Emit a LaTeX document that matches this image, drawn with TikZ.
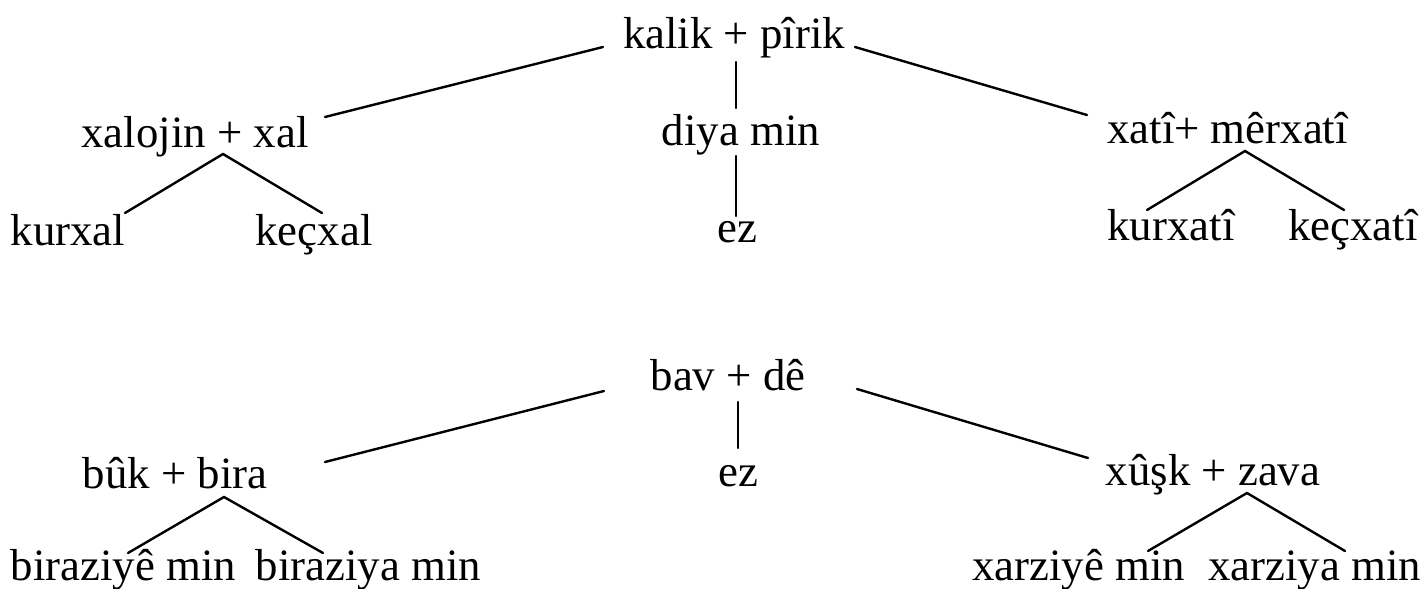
\documentclass[tikz,border=0pt]{standalone}
\usepackage{fontspec}
\setmainfont{Liberation Serif}
\usetikzlibrary{calc}
\begin{document}
\begin{tikzpicture}[x=0.5pt,y=-0.5pt,
  word/.style={inner sep=0pt,anchor=base,font=\fontsize{22.4}{26}\selectfont},
  link/.style={line width=1.2pt,line cap=round}]
\useasboundingbox (0,0) rectangle (1421,589);
% top tree
\node[word] (kalik) at (734,48) {kalik + pîrik};
\node[word] (diya) at (741,145) {diya min};
\node[word] (ez1) at (737.5,242) {ez};
\node[word] (xalojin) at (195,147) {xalojin + xal};
\node[word] (kurxal) at (68,245) {kurxal};
\node[word] (kecxal) at (314,245) {keçxal};
\node[word] (xati) at (1227.5,143) {xatî+ mêrxatî};
\node[word] (kurxati) at (1171,240) {kurxatî};
\node[word] (kecxati) at (1353,240) {keçxatî};
\draw[link] ($(kalik.base)+(-131,-1)$) -- ($(xalojin.base)+(130,-30)$);
\draw[link] ($(kalik.base)+(121,-1)$) -- ($(xati.base)+(-140.5,-28)$);
\draw[link] ($(kalik.base)+(2,14)$) -- ($(diya.base)+(-5,-37)$);
\draw[link] ($(diya.base)+(-5,11)$) -- ($(ez1.base)+(-1.5,-26)$);
\draw[link] ($(kurxal.base)+(57,-32)$) -- ($(xalojin.base)+(28,7)$) -- ($(kecxal.base)+(8,-32)$);
\draw[link] ($(kurxati.base)+(-24,-30)$) -- ($(xati.base)+(17.5,8)$) -- ($(kecxati.base)+(-9,-30)$);
% bottom tree
\node[word] (bav) at (728,390) {bav + dê};
\node[word] (ez2) at (738.5,486) {ez};
\node[word] (buk) at (175,488) {bûk + bira};
\node[word] (bira1) at (123.5,580) {biraziyê min};
\node[word] (bira2) at (368.5,580) {biraziya min};
\node[word] (xusk) at (1213,485) {xûşk + zava};
\node[word] (xarz1) at (1078.5,580) {xarziyê min};
\node[word] (xarz2) at (1314.5,580) {xarziya min};
\draw[link] ($(bav.base)+(-124,1)$) -- ($(buk.base)+(150,-26)$);
\draw[link] ($(bav.base)+(129,-1)$) -- ($(xusk.base)+(-125,-27)$);
\draw[link] ($(bav.base)+(10,12)$) -- ($(ez2.base)+(-0.5,-38)$);
\draw[link] ($(bira1.base)+(4.5,-27)$) -- ($(buk.base)+(49,9)$) -- ($(bira2.base)+(-45.5,-27)$);
\draw[link] ($(xarz1.base)+(69.5,-29)$) -- ($(xusk.base)+(34,8)$) -- ($(xarz2.base)+(30.5,-29)$);
\end{tikzpicture}
\end{document}
